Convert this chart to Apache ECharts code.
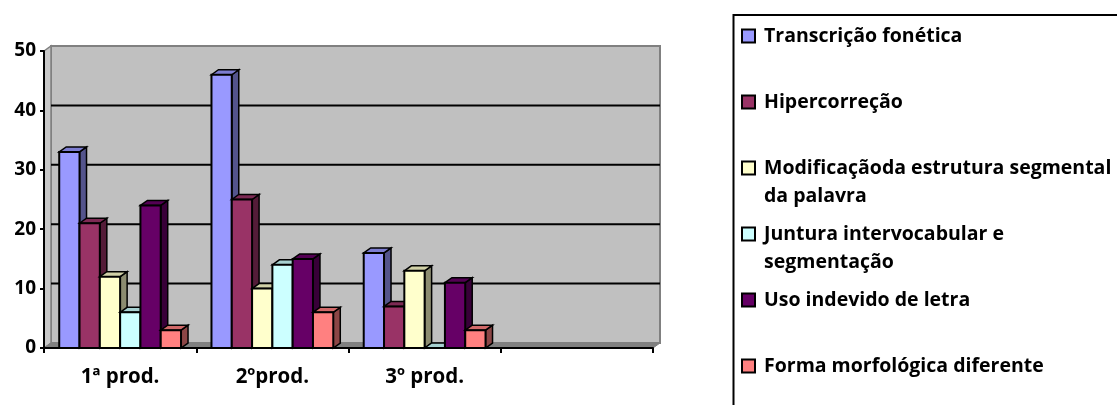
<!DOCTYPE html>
<html>
<head>
<meta charset="utf-8">
<script src="https://cdn.jsdelivr.net/npm/echarts@6/dist/echarts.min.js"></script>
<style>
  html, body { margin: 0; padding: 0; background: #ffffff; }
  #chart { width: 1117px; height: 405px; }
</style>
</head>
<body>
<div id="chart"></div>
<script>
// Categories (the fourth slot is left empty on purpose)
const categories = ['1ª prod.', '2ºprod.', '3º prod.', ''];

// Series names as shown in the legend
const seriesNames = [
  'Transcrição fonética',
  'Hipercorreção',
  'Modificaçãoda estrutura segmental\nda palavra',
  'Juntura intervocabular e\nsegmentação',
  'Uso indevido de letra',
  'Forma morfológica diferente'
];

// Values per production
const transcricaoFonetica = [33, 46, 16];
const hipercorrecao = [21, 25, 7];
const modificacaoEstrutura = [12, 10, 13];
const junturaIntervocabular = [6, 14, 0];
const usoIndevidoLetra = [24, 15, 11];
const formaMorfologica = [3, 6, 3];

// Value axis ticks
const yTicks = [0, 10, 20, 30, 40, 50];

const seriesValues = [
  transcricaoFonetica, hipercorrecao, modificacaoEstrutura,
  junturaIntervocabular, usoIndevidoLetra, formaMorfologica
];
const colors = ['#9999ff', '#993366', '#ffffcc', '#ccffff', '#660066', '#ff8080'];

// 3D look: depth offset of walls and columns
const DX = 7, DY = 5;
const GROUP = 0.8; // share of a category band used by the column group
const FONT = 'Open Sans';

function shade(hex, f) {
  const n = parseInt(hex.slice(1), 16);
  const r = Math.round(((n >> 16) & 255) * f);
  const g = Math.round(((n >> 8) & 255) * f);
  const b = Math.round((n & 255) * f);
  return 'rgb(' + r + ',' + g + ',' + b + ')';
}

// Back wall, side wall, floor and gridlines
function renderWalls(params, api) {
  const cs = params.coordSys;
  const xl = cs.x, xr = cs.x + cs.width, yt = cs.y, yb = cs.y + cs.height;
  const children = [
    { type: 'rect', shape: { x: xl + DX, y: yt - DY, width: cs.width, height: cs.height },
      style: { fill: '#c0c0c0', stroke: '#808080', lineWidth: 2 } },
    { type: 'polygon', shape: { points: [[xl, yt], [xl + DX, yt - DY], [xl + DX, yb - DY], [xl, yb]] },
      style: { fill: '#c8c8c8', stroke: '#808080', lineWidth: 1.5 } },
    { type: 'polygon', shape: { points: [[xl, yb], [xl + DX, yb - DY], [xr + DX, yb - DY], [xr, yb]] },
      style: { fill: '#808080', stroke: '#808080', lineWidth: 1 } }
  ];
  yTicks.slice(1, -1).forEach(function (v) {
    const y = api.coord([0, v])[1] - DY;
    children.push({ type: 'line', shape: { x1: xl + DX, y1: y, x2: xr + DX, y2: y },
      style: { stroke: '#000', lineWidth: 2 } });
  });
  return { type: 'group', children: children };
}

// One 3D column: side face, top face, front face
function makeColumnRenderer(idx, count) {
  return function (params, api) {
    const cat = api.value(0), val = api.value(1);
    const base = api.coord([cat, 0]);
    const top = api.coord([cat, val]);
    const band = api.size([1, 0])[0];
    const w = band * GROUP / count;
    const x0 = base[0] - band * GROUP / 2 + idx * w;
    const x1 = x0 + w;
    const y0 = base[1], y1 = top[1];
    const color = api.visual('color');
    return {
      type: 'group',
      children: [
        { type: 'polygon', shape: { points: [[x1, y1], [x1 + DX, y1 - DY], [x1 + DX, y0 - DY], [x1, y0]] },
          style: { fill: shade(color, 0.55), stroke: '#000', lineWidth: 1.5 } },
        { type: 'polygon', shape: { points: [[x0, y1], [x0 + DX, y1 - DY], [x1 + DX, y1 - DY], [x1, y1]] },
          style: { fill: shade(color, 0.82), stroke: '#000', lineWidth: 1.5 } },
        { type: 'rect', shape: { x: x0, y: y1, width: w, height: y0 - y1 },
          style: { fill: color, stroke: '#000', lineWidth: 2 } }
      ]
    };
  };
}

const columnSeries = seriesNames.map(function (name, i) {
  return {
    type: 'custom',
    name: name,
    z: 3,
    silent: true,
    itemStyle: { color: colors[i] },
    encode: { x: 0, y: 1 },
    data: seriesValues[i].map(function (v, c) { return [c, v]; }),
    renderItem: makeColumnRenderer(i, seriesNames.length)
  };
});

// Legend entries, one per row; two-line names get an empty leading line
// so that the icon sits beside the first line of text
const legendCenters = [36, 102, 168, 234, 300, 366];
const LINE = 28;
const legends = seriesNames.map(function (name, i) {
  const twoLines = name.indexOf('\n') >= 0;
  return {
    data: [name],
    left: 741,
    top: legendCenters[i] - (twoLines ? LINE * 1.5 : LINE / 2),
    padding: 0,
    icon: 'rect',
    itemWidth: 13,
    itemHeight: 13,
    selectedMode: false,
    itemStyle: { borderColor: '#000', borderWidth: 2 },
    formatter: function (n) { return twoLines ? '\n' + n : n; },
    textStyle: {
      fontFamily: FONT, fontWeight: 'bold', fontSize: 19.5, color: '#000',
      lineHeight: LINE, padding: [0, 0, 0, 4]
    }
  };
});

const chart = echarts.init(document.getElementById('chart'), null, { renderer: 'canvas' });
chart.setOption({
  animation: false,
  backgroundColor: '#ffffff',
  grid: { left: 44, right: 464, top: 51, bottom: 57 },
  xAxis: {
    type: 'category',
    data: categories,
    z: 5,
    axisLine: { lineStyle: { color: '#000', width: 2 } },
    axisTick: { show: true, length: 5, alignWithLabel: false, lineStyle: { color: '#000', width: 2 } },
    axisLabel: { fontFamily: FONT, fontWeight: 'bold', fontSize: 20.5, color: '#000', margin: 19 }
  },
  yAxis: {
    type: 'value',
    min: yTicks[0],
    max: yTicks[yTicks.length - 1],
    interval: yTicks[1] - yTicks[0],
    z: 5,
    axisLine: { show: true, lineStyle: { color: '#000', width: 2 } },
    axisTick: { show: true, length: 4, lineStyle: { color: '#000', width: 2 } },
    axisLabel: { fontFamily: FONT, fontWeight: 'bold', fontSize: 19, color: '#000', margin: 8 },
    splitLine: { show: false }
  },
  legend: legends,
  graphic: [{
    type: 'rect',
    shape: { x: 733.5, y: 15, width: 420, height: 420 },
    style: { fill: null, stroke: '#000', lineWidth: 2 },
    silent: true
  }],
  series: [{
    type: 'custom',
    name: 'walls',
    z: 1,
    silent: true,
    data: [[0, 0]],
    encode: { x: 0, y: 1 },
    renderItem: renderWalls
  }].concat(columnSeries)
});
</script>
</body>
</html>
